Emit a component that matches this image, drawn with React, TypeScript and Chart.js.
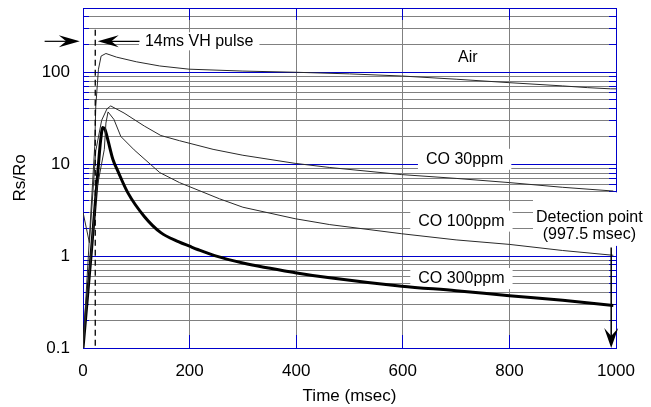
import React, { useEffect, useRef } from 'react';
import { Chart, registerables } from 'chart.js';

Chart.register(...registerables);

// ---------- data ----------
const airTime = [0, 22, 24, 29, 34, 43, 63, 100, 144, 199, 300, 398, 500, 598, 700, 800, 900, 947, 990, 1000];
const airRatio = [0.1, 15.7, 43, 108, 150, 160, 146, 130, 117, 108, 103, 100, 96, 91, 84, 77, 71, 68, 66, 66];

const co30Time = [0, 12, 24, 35, 45, 52, 77, 115, 146, 181, 244, 300, 398, 463, 598, 700, 800, 900, 995];
const co30Ratio = [3, 1.4, 14, 30, 40, 43, 36, 26, 20.5, 18, 14.5, 12.5, 10.2, 9.2, 7.7, 7.0, 6.3, 5.6, 5.1];

const co100Time = [0, 10, 25, 40, 43, 47, 58, 71, 96, 144, 181, 256, 300, 398, 463, 598, 700, 800, 900, 995];
const co100Ratio = [0.1, 0.5, 5, 14.5, 28, 37, 30.7, 20, 14.3, 8.1, 6.3, 4.2, 3.4, 2.55, 2.2, 1.75, 1.5, 1.34, 1.15, 1.02];

const co300Time = [0, 15, 29, 33, 37, 41, 47, 56, 65, 84, 115, 146, 180, 200, 215, 247, 300, 398, 463, 598, 700, 800, 900, 995];
const co300Ratio = [0.1, 1, 10, 18, 25, 24, 18, 11.3, 8.5, 4.9, 2.7, 1.8, 1.43, 1.28, 1.18, 1.01, 0.84, 0.66, 0.58, 0.47, 0.42, 0.37, 0.33, 0.29];

const xTickValues = [0, 200, 400, 600, 800, 1000];
const yDecades = [0.1, 1, 10, 100];
const yMin = 0.1;
const yMax = 500;

// annotation anchors (data coordinates)
const curveLabels = ['Air', 'CO 30ppm', 'CO 100ppm', 'CO 300ppm'];
const curveLabelTime = [722, 716, 710, 710];
const curveLabelRatio = [145, 11.3, 2.4, 0.57];

const pulseLabel = '14ms VH pulse';
const pulseLabelTime = 218;
const pulseRatio = 217;
const pulseLineTime = 23;
const pulseLineTop = 290;
const pulseLeftArrow = [-72, -6];
const pulseRightArrow = [106, 27.6];

const detectionLines = ['Detection point', '(997.5 msec)'];
const detectionLabelTime = 950;
const detectionLabelRatio = [2.64, 1.7];
const detectionArrowTime = 991;
const detectionArrowRatio = [1.24, 0.1];

// ---------- styles ----------
const FONT = '"Liberation Sans", Arial, Helvetica, sans-serif';
const BLUE = '#0000cc';
const GRID_GRAY = '#808080';
const INK = '#000000';

const yTickValues: number[] = (() => {
  const out: number[] = [];
  for (const d of yDecades) {
    for (let m = 1; m <= 9; m++) {
      const v = Number((m * d).toPrecision(3));
      if (v >= yMin && v <= yMax) out.push(v);
    }
  }
  return out;
})();

const isDecade = (v: number) => yDecades.some((d) => Math.abs(d - v) < 1e-9);
const toPoints = (xs: number[], ys: number[]) => xs.map((t, i) => ({ x: t, y: ys[i] }));
const A = (p: number) => Math.round(p - 0.5) + 0.5;

function arrowHead(ctx: CanvasRenderingContext2D, tipX: number, tipY: number, dx: number, dy: number, len: number, half: number, notch: number) {
  const bx = tipX - dx * len;
  const by = tipY - dy * len;
  const nx = -dy;
  const ny = dx;
  ctx.beginPath();
  ctx.moveTo(tipX, tipY);
  ctx.lineTo(bx + nx * half, by + ny * half);
  ctx.lineTo(tipX - dx * len * (1 - notch), tipY - dy * len * (1 - notch));
  ctx.lineTo(bx - nx * half, by - ny * half);
  ctx.closePath();
  ctx.fill();
}

const decorPlugin = {
  id: 'decor',
  beforeDatasetsDraw(chart: any) {
    const { ctx, chartArea: ca } = chart;
    const x = chart.scales.x;
    const y = chart.scales.y;
    ctx.save();
    // inner blue tick marks
    ctx.lineWidth = 1;
    ctx.strokeStyle = BLUE;
    ctx.beginPath();
    for (const v of yTickValues) {
      if (isDecade(v)) continue;
      const py = A(y.getPixelForValue(v));
      ctx.moveTo(ca.left, py);
      ctx.lineTo(ca.left + 6, py);
      ctx.moveTo(ca.right - 7, py);
      ctx.lineTo(ca.right, py);
    }
    for (const v of xTickValues) {
      const px = A(x.getPixelForValue(v));
      ctx.moveTo(px, ca.bottom);
      ctx.lineTo(px, ca.bottom - 13);
      ctx.moveTo(px, ca.top);
      ctx.lineTo(px, ca.top + 12);
    }
    ctx.stroke();
    // frame
    ctx.strokeRect(A(ca.left), A(ca.top), A(ca.right) - A(ca.left), A(ca.bottom) - A(ca.top));

    // labels with white background
    ctx.font = `16px ${FONT}`;
    ctx.textAlign = 'center';
    ctx.textBaseline = 'middle';
    const boxed = (text: string, cx: number, cy: number, padX: number, h: number) => {
      const w = ctx.measureText(text).width + padX * 2;
      ctx.fillStyle = '#ffffff';
      ctx.fillRect(cx - w / 2, cy - h / 2, w, h);
      ctx.fillStyle = INK;
      ctx.fillText(text, cx, cy);
    };
    curveLabels.forEach((t, i) => {
      boxed(t, x.getPixelForValue(curveLabelTime[i]), y.getPixelForValue(curveLabelRatio[i]), 8, 21);
    });
    boxed(pulseLabel, x.getPixelForValue(pulseLabelTime), y.getPixelForValue(pulseRatio), 6, 18);

    // detection label block
    const dcx = x.getPixelForValue(detectionLabelTime);
    const dy1 = y.getPixelForValue(detectionLabelRatio[0]);
    const dy2 = y.getPixelForValue(detectionLabelRatio[1]);
    const dw = Math.max(...detectionLines.map((t) => ctx.measureText(t).width)) + 6;
    ctx.fillStyle = '#ffffff';
    ctx.fillRect(dcx - dw / 2, dy1 - 25, dw, dy2 - dy1 + 36);
    ctx.fillStyle = INK;
    ctx.fillText(detectionLines[0], dcx, dy1);
    ctx.fillText(detectionLines[1], dcx, dy2);
    ctx.restore();
  },
  afterDatasetsDraw(chart: any) {
    const { ctx, chartArea: ca } = chart;
    const x = chart.scales.x;
    const y = chart.scales.y;
    ctx.save();
    ctx.strokeStyle = INK;
    ctx.fillStyle = INK;
    // dashed pulse line
    ctx.lineWidth = 1.3;
    ctx.setLineDash([6, 4]);
    const dpx = x.getPixelForValue(pulseLineTime);
    ctx.beginPath();
    ctx.moveTo(dpx, y.getPixelForValue(pulseLineTop));
    ctx.lineTo(dpx, ca.bottom);
    ctx.stroke();
    ctx.setLineDash([]);

    // pulse arrows
    const py = y.getPixelForValue(pulseRatio);
    const l0 = x.getPixelForValue(pulseLeftArrow[0]);
    const l1 = x.getPixelForValue(pulseLeftArrow[1]);
    ctx.lineWidth = 1.2;
    ctx.beginPath();
    ctx.moveTo(l0, py);
    ctx.lineTo(l1 - 10, py);
    ctx.stroke();
    arrowHead(ctx, l1, py, 1, 0, 21, 6, 0.35);
    const r0 = x.getPixelForValue(pulseRightArrow[0]);
    const r1 = x.getPixelForValue(pulseRightArrow[1]);
    ctx.beginPath();
    ctx.moveTo(r0, py);
    ctx.lineTo(r1 + 10, py);
    ctx.stroke();
    arrowHead(ctx, r1, py, -1, 0, 21, 6, 0.35);

    // detection arrow
    const ax = x.getPixelForValue(detectionArrowTime);
    const ay0 = y.getPixelForValue(detectionArrowRatio[0]);
    const ay1 = y.getPixelForValue(detectionArrowRatio[1]);
    ctx.lineWidth = 1.5;
    ctx.beginPath();
    ctx.moveTo(ax, ay0);
    ctx.lineTo(ax, ay1 - 10);
    ctx.stroke();
    arrowHead(ctx, ax, ay1, 0, 1, 20, 7, 0.4);
    ctx.restore();
  },
};

export default function App() {
  const canvasRef = useRef<HTMLCanvasElement | null>(null);

  useEffect(() => {
    if (!canvasRef.current) return;
    const tickFont = { family: FONT, size: 17 };
    const chart = new Chart(canvasRef.current, {
      type: 'line',
      data: {
        datasets: [
          { label: 'Air', data: toPoints(airTime, airRatio), borderColor: '#2a2a2a', borderWidth: 1, pointRadius: 0, tension: 0 },
          { label: 'CO 30ppm', data: toPoints(co30Time, co30Ratio), borderColor: '#2a2a2a', borderWidth: 1, pointRadius: 0, tension: 0 },
          { label: 'CO 100ppm', data: toPoints(co100Time, co100Ratio), borderColor: '#2a2a2a', borderWidth: 1, pointRadius: 0, tension: 0 },
          { label: 'CO 300ppm', data: toPoints(co300Time, co300Ratio), borderColor: '#000000', borderWidth: 3, pointRadius: 0, cubicInterpolationMode: 'monotone' },
        ],
      },
      options: {
        animation: false,
        responsive: true,
        maintainAspectRatio: false,
        layout: { padding: { left: 0, right: 35, top: 8, bottom: 0 } },
        plugins: { legend: { display: false }, tooltip: { enabled: false } },
        scales: {
          x: {
            type: 'linear',
            min: 0,
            max: 1000,
            afterBuildTicks: (s: any) => {
              s.ticks = xTickValues.map((v) => ({ value: v }));
            },
            afterFit: (s: any) => {
              s.height = 59;
              s.paddingLeft = 0;
              s.paddingRight = 0;
            },
            grid: { color: GRID_GRAY, lineWidth: 1, drawTicks: false },
            border: { display: true, color: BLUE, width: 1 },
            ticks: { font: tickFont, color: INK, padding: 13, maxRotation: 0, autoSkip: false, callback: (v: any) => String(v) },
            title: { display: true, text: 'Time (msec)', font: tickFont, color: INK, padding: { top: 0, bottom: 0 } },
          },
          y: {
            type: 'logarithmic',
            min: yMin,
            max: yMax,
            afterBuildTicks: (s: any) => {
              s.ticks = yTickValues.map((v) => ({ value: v, major: isDecade(v) }));
            },
            afterFit: (s: any) => {
              s.width = 83;
              s.paddingTop = 0;
              s.paddingBottom = 0;
            },
            grid: {
              color: (c: any) => (c.tick && isDecade(c.tick.value) ? BLUE : GRID_GRAY),
              lineWidth: 1,
              drawTicks: false,
            },
            border: { display: true, color: BLUE, width: 1 },
            ticks: {
              font: tickFont,
              color: INK,
              padding: 13,
              autoSkip: false,
              callback: (v: any) => (isDecade(Number(v)) ? String(v) : ''),
            },
            title: { display: true, text: 'Rs/Ro', font: tickFont, color: INK, padding: { top: 10, bottom: 0 } },
          },
        },
      } as any,
      plugins: [decorPlugin],
    });
    return () => chart.destroy();
  }, []);

  return (
    <div style={{ position: 'fixed', left: 0, top: 0, width: 651, height: 407, background: '#ffffff' }}>
      <canvas ref={canvasRef} />
    </div>
  );
}
